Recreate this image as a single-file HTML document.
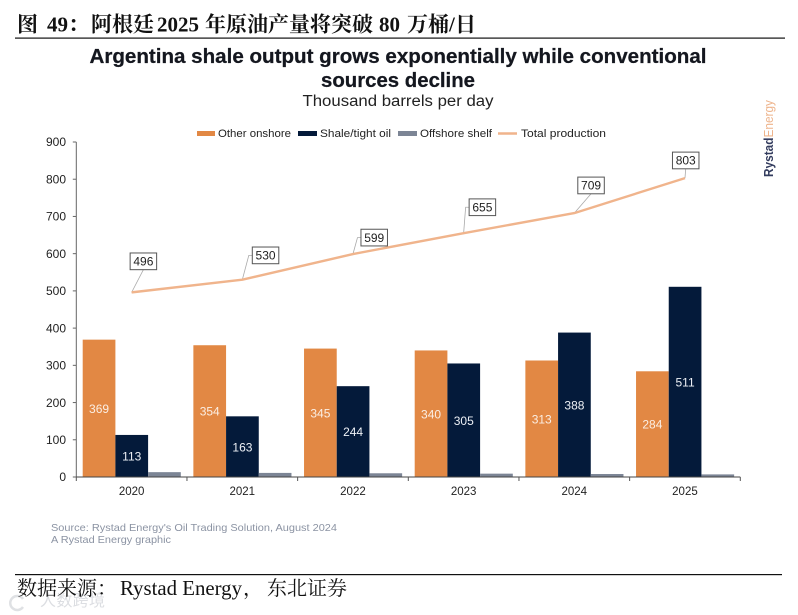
<!DOCTYPE html>
<html lang="zh">
<head>
<meta charset="utf-8">
<title>Argentina shale output</title>
<style>
html,body{margin:0;padding:0;background:#fff;}
body{width:798px;height:615px;overflow:hidden;position:relative;}
svg{display:block;position:absolute;left:0;top:0;}
text{font-family:"Liberation Sans","Noto Sans CJK SC",sans-serif;}
.cn,.cn text{font-family:"Liberation Serif","Noto Serif CJK SC",serif;}
</style>
</head>
<body>
<svg id="chart" width="798" height="615" viewBox="0 0 798 615">
  <text class="cn" y="31.5" font-size="21" font-weight="700" fill="#111"><tspan x="17">图</tspan><tspan x="47">49</tspan><tspan x="68">：</tspan><tspan x="91">阿根廷</tspan><tspan x="157">2025</tspan><tspan x="205">年原油产量将突破</tspan><tspan x="379">80</tspan><tspan x="407">万桶</tspan><tspan x="449">/</tspan><tspan x="455">日</tspan></text>
  <rect x="15" y="37.5" width="770" height="1.2" fill="#111"/>

  <text x="398" y="63" font-size="20" font-weight="700" text-anchor="middle" fill="#14171f" stroke="#14171f" stroke-width="0.25" textLength="617" lengthAdjust="spacingAndGlyphs">Argentina shale output grows exponentially while conventional</text>
  <text x="398" y="87" font-size="20" font-weight="700" text-anchor="middle" fill="#14171f" stroke="#14171f" stroke-width="0.25" textLength="154" lengthAdjust="spacingAndGlyphs">sources decline</text>
  <text x="398" y="106" font-size="15.5" text-anchor="middle" fill="#222" textLength="191" lengthAdjust="spacingAndGlyphs">Thousand barrels per day</text>

  <g>
    <g>
      <rect x="197" y="131" width="18" height="5" fill="#e28844"/>
      <text x="218" y="137" font-size="11" fill="#222" textLength="73" lengthAdjust="spacingAndGlyphs">Other onshore</text>
    </g>
    <g>
      <rect x="298" y="131" width="19" height="5" fill="#041a3a"/>
      <text x="320" y="137" font-size="11" fill="#222" textLength="71" lengthAdjust="spacingAndGlyphs">Shale/tight oil</text>
    </g>
    <g>
      <rect x="398" y="131" width="19" height="5" fill="#7c8595"/>
      <text x="420" y="137" font-size="11" fill="#222" textLength="72" lengthAdjust="spacingAndGlyphs">Offshore shelf</text>
    </g>
    <g>
      <line x1="498" y1="133.5" x2="517" y2="133.5" stroke="#f0b48c" stroke-width="2.4"/>
      <text x="521" y="137" font-size="11" fill="#222" textLength="85" lengthAdjust="spacingAndGlyphs">Total production</text>
    </g>
  </g>

  <g id="plot"></g>

  <g transform="translate(773,177) rotate(-90)">
    <text x="0" y="0" font-size="12.5" textLength="77" lengthAdjust="spacingAndGlyphs"><tspan font-weight="700" fill="#333c5e">Rystad</tspan><tspan fill="#eeb48c">Energy</tspan></text>
  </g>

  <text x="51" y="531" font-size="10.5" fill="#8b93a3" textLength="286" lengthAdjust="spacingAndGlyphs">Source: Rystad Energy's Oil Trading Solution, August 2024</text>
  <text x="51" y="543" font-size="10.5" fill="#8b93a3" textLength="120" lengthAdjust="spacingAndGlyphs">A Rystad Energy graphic</text>

  <rect x="15" y="574" width="767" height="1.2" fill="#111"/>
  <text x="40" y="606" font-size="16" fill="#dcdee2" textLength="65" lengthAdjust="spacing">人数跨境</text>
  <path d="M23 599 A7 7 0 1 0 23 607" fill="none" stroke="#dfe1e4" stroke-width="2.5"/>
  <text class="cn" y="595" font-size="20" fill="#111"><tspan x="17">数据来源：</tspan><tspan x="120" font-size="21" textLength="122" lengthAdjust="spacingAndGlyphs">Rystad Energy</tspan><tspan x="243">，</tspan><tspan x="267">东北证券</tspan></text>
</svg>
<script>
const categories = ['2020', '2021', '2022', '2023', '2024', '2025'];
const otherOnshore = [369, 354, 345, 340, 313, 284];
const shaleTightOil = [113, 163, 244, 305, 388, 511];
const offshoreShelf = [13, 11, 10, 9, 8, 7];
const totalProduction = [496, 530, 599, 655, 709, 803];
const yTickLabels = [0, 100, 200, 300, 400, 500, 600, 700, 800, 900];

const NS = 'http://www.w3.org/2000/svg';
const plot = document.getElementById('plot');
const X0 = 76.3, X1 = 740.3, Y0 = 477, Y900 = 142;
const yMax = 900;
const step = (X1 - X0) / categories.length;
const barW = 32.7;
const groupPad = 6.4;

function yScale(v) { return Y0 - (v / yMax) * (Y0 - Y900); }
function xBand(i) { return X0 + i * step; }
function xCenter(i) { return xBand(i) + step / 2; }

function add(tag, attrs, parent, text) {
  const el = document.createElementNS(NS, tag);
  for (const k in attrs) el.setAttribute(k, attrs[k]);
  if (text !== undefined) el.textContent = text;
  (parent || plot).appendChild(el);
  return el;
}

const series = [
  { key: 'other-onshore', values: otherOnshore, color: '#e28844', label: true, labelColor: '#fbeee3' },
  { key: 'shale-tight-oil', values: shaleTightOil, color: '#041a3a', label: true, labelColor: '#eef1f6' },
  { key: 'offshore-shelf', values: offshoreShelf, color: '#7c8595', label: false }
];

// y axis
const yAxis = add('line', { x1: X0, x2: X0, y1: Y900, y2: Y0, stroke: '#666', 'stroke-width': 1 });


yTickLabels.forEach(function (t) {
  const tick = add('line', { x1: X0 - 3.5, x2: X0, y1: yScale(t), y2: yScale(t), stroke: '#666', 'stroke-width': 1 });
  
  
  const lab = add('text', { x: 66, y: yScale(t) + 4.2, 'font-size': 12, 'text-anchor': 'end', fill: '#222' }, plot, String(t));
  
  
});

// bars
series.forEach(function (s, si) {
  s.values.forEach(function (v, i) {
    const x = xBand(i) + groupPad + si * barW;
    const bar = add('rect', { x: x, y: yScale(v), width: barW, height: Y0 - yScale(v), fill: s.color });
    
    
    if (s.label) {
      const lab = add('text', { x: x + barW / 2, y: (yScale(v) + Y0) / 2 + 4.6, 'font-size': 12, 'text-anchor': 'middle', fill: s.labelColor }, plot, String(v));
      
      
    }
  });
});

// x axis
const xAxis = add('line', { x1: X0, x2: X1, y1: Y0, y2: Y0, stroke: '#444', 'stroke-width': 1 });


for (let i = 0; i <= categories.length; i++) {
  const tick = add('line', { x1: xBand(i), x2: xBand(i), y1: Y0, y2: Y0 + 4, stroke: '#555', 'stroke-width': 1 });
  
  
}
categories.forEach(function (c, i) {
  const lab = add('text', { x: xCenter(i), y: 495, 'font-size': 11.5, 'text-anchor': 'middle', fill: '#222' }, plot, c);
  
  
});

// callout placement relative to each point: box offset and whether the leader has an elbow
const calloutDx = [-1.5, 10, 8, 5.5, 3.5, -12.5];
const calloutDy = [-39.4, -32.7, -24.8, -34.3, -36, -26];
const elbow = [false, true, true, true, false, false];
const boxW = 26.5, boxH = 16.7;

// leader lines first
totalProduction.forEach(function (v, i) {
  const px = xCenter(i), py = yScale(v);
  const bx = px + calloutDx[i], by = py + calloutDy[i];
  let pts;
  if (elbow[i]) {
    pts = [[px, py], [bx - 3.5, by + boxH / 2], [bx, by + boxH / 2]];
  } else {
    pts = [[px, py], [bx + boxW / 2, by + boxH]];
  }
  const leader = add('polyline', { points: pts.map(function (p) { return p.join(','); }).join(' '), fill: 'none', stroke: '#aaa', 'stroke-width': 0.8 });
  
  
});

// total production line
const linePts = totalProduction.map(function (v, i) { return xCenter(i) + ',' + yScale(v); }).join(' ');
const line = add('polyline', { points: linePts, fill: 'none', stroke: '#f0b48c', 'stroke-width': 2.4, 'stroke-linejoin': 'round' });



// callout boxes
totalProduction.forEach(function (v, i) {
  const px = xCenter(i), py = yScale(v);
  const bx = px + calloutDx[i], by = py + calloutDy[i];
  const box = add('rect', { x: bx, y: by, width: boxW, height: boxH, fill: '#fff', stroke: '#555', 'stroke-width': 1 });
  
  
  const lab = add('text', { x: bx + boxW / 2, y: by + 12.6, 'font-size': 12, 'text-anchor': 'middle', fill: '#222' }, plot, String(v));
  
  
});
</script>
</body>
</html>
